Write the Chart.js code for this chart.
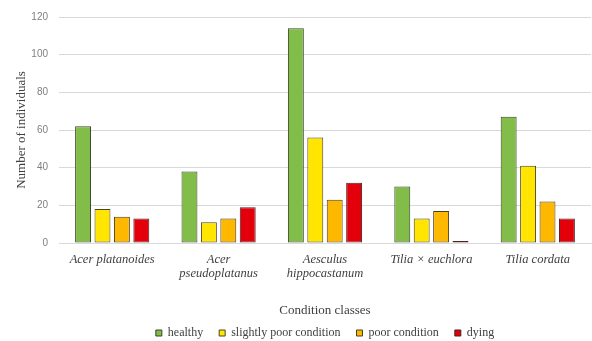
<!DOCTYPE html>
<html>
<head>
<meta charset="utf-8">
<script src="https://cdn.jsdelivr.net/npm/chart.js@4/dist/chart.umd.min.js"></script>
<style>
  html, body { margin: 0; padding: 0; background: #ffffff; }
  #wrap { width: 592px; height: 341px; }
</style>
</head>
<body>
<div id="wrap"><canvas id="c" width="592" height="341"></canvas></div>
<script>
// Tree species (categories)
const species = [
  'Acer platanoides',
  ['Acer', 'pseudoplatanus'],
  ['Aesculus', 'hippocastanum'],
  'Tilia × euchlora',
  'Tilia cordata'
];

// Number of individuals per condition class
const healthy        = [62, 38, 114, 30, 67];
const slightlyPoor   = [18, 11, 56, 13, 41];
const poorCondition  = [14, 13, 23, 17, 22];
const dying          = [13, 19, 32, 1, 13];

const seriesNames = ['healthy', 'slightly poor condition', 'poor condition', 'dying'];
const yTicks = [0, 20, 40, 60, 80, 100, 120];

const fills   = ['#82bd4a', '#ffe500', '#ffb800', '#e3000b'];
const strokes = ['#3a4526', '#4a4426', '#4a3e22', '#4a2222'];

const seriesValues = [healthy, slightlyPoor, poorCondition, dying];

const datasets = seriesValues.map((vals, i) => ({
  label: seriesNames[i],
  data: vals,
  backgroundColor: fills[i],
  borderColor: strokes[i],
  borderWidth: 1,
  borderSkipped: false,
  barPercentage: 0.82,
  categoryPercentage: 0.73
}));

const serif = "'Liberation Serif', 'Times New Roman', serif";
const sans = "'Liberation Sans', Arial, sans-serif";

new Chart(document.getElementById('c'), {
  type: 'bar',
  data: { labels: species, datasets },
  options: {
    responsive: false,
    animation: false,
    devicePixelRatio: 1,
    layout: { padding: { top: 5, right: 1, bottom: -8, left: 0 } },
    plugins: {
      tooltip: { enabled: false },
      legend: {
        position: 'bottom',
        fullSize: false,
        labels: {
          boxWidth: 6,
          boxHeight: 6,
          padding: 16,
          color: '#404040',
          font: { family: serif, size: 12 }
        }
      }
    },
    scales: {
      x: {
        grid: { display: false, drawTicks: false },
        border: { display: true, color: '#d9d9d9', width: 1 },
        ticks: {
          color: '#404040',
          padding: 10,
          maxRotation: 0,
          autoSkip: false,
          font: { family: serif, size: 12.5, style: 'italic', lineHeight: 1.12 }
        },
        title: {
          display: true,
          text: 'Condition classes',
          color: '#404040',
          font: { family: serif, size: 13 },
          padding: { top: 0, bottom: -7 }
        },
        afterFit: (s) => { s.height = 68; }
      },
      y: {
        min: 0,
        max: 120,
        afterBuildTicks: (s) => { s.ticks = yTicks.map(v => ({ value: v })); },
        grid: { color: '#d9d9d9', drawTicks: false },
        border: { display: false },
        ticks: {
          color: '#7f7f7f',
          padding: 11,
          font: { family: sans, size: 10 }
        },
        title: {
          display: true,
          text: 'Number of individuals',
          color: '#404040',
          font: { family: serif, size: 13 },
          padding: { top: 14, bottom: 0 }
        },
        afterFit: (s) => { s.width = 59; }
      }
    }
  }
});
</script>
</body>
</html>
